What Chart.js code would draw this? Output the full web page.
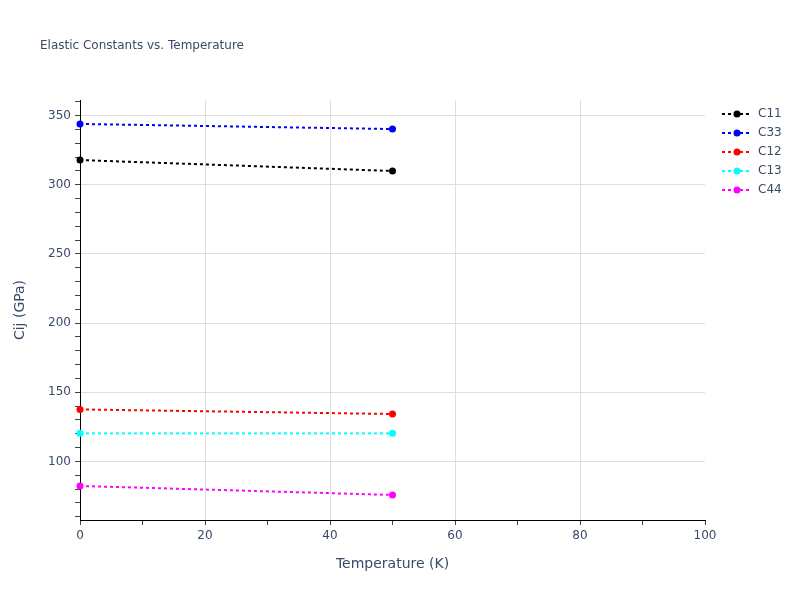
<!DOCTYPE html>
<html>
<head>
<meta charset="utf-8">
<script src="https://cdn.jsdelivr.net/npm/chart.js@4.4.1/dist/chart.umd.min.js"></script>
<style>
html,body{margin:0;padding:0;background:#fff;}
canvas{display:block;}
</style>
</head>
<body>
<canvas id="c" width="800" height="600"></canvas>
<script>
const temperatures = [0, 50];
const seriesNames = ["C11", "C33", "C12", "C13", "C44"];
const seriesColors = ["#000000", "#0000ff", "#ff0000", "#00ffff", "#ff00ff"];
const C11 = [317.8, 309.9];
const C33 = [343.9, 340.2];
const C12 = [137.6, 134.3];
const C13 = [120.3, 120.3];
const C44 = [82.3, 75.8];
const xTickValues = [0,10,20,30,40,50,60,70,80,90,100];
const xLabelValues = [0,20,40,60,80,100];
const yTickValues = [60,70,80,90,100,110,120,130,140,150,160,170,180,190,200,210,220,230,240,250,260,270,280,290,300,310,320,330,340,350,360];
const yLabelValues = [100,150,200,250,300,350];
const titleText = "Elastic Constants vs. Temperature";
const xTitle = "Temperature (K)";
const yTitle = "Cij (GPa)";

const seriesValues = [C11, C33, C12, C13, C44];
const FONT = '"DejaVu Sans", Verdana, sans-serif';
const TEXT = '#3a4a68';

const datasets = seriesNames.map((name, i) => ({
  label: name,
  data: temperatures.map((t, j) => ({x: t, y: seriesValues[i][j]})),
  borderColor: seriesColors[i],
  backgroundColor: seriesColors[i],
  borderWidth: 2,
  borderDash: [3, 3],
  pointRadius: 3.5,
  pointHoverRadius: 3.5,
  pointBorderWidth: 0,
  tension: 0,
  clip: false
}));

const overlay = {
  id: 'overlay',
  afterDraw(chart) {
    const ctx = chart.ctx;
    ctx.save();
    ctx.fillStyle = TEXT;
    ctx.font = '12px ' + FONT;
    ctx.textAlign = 'left';
    ctx.textBaseline = 'middle';
    ctx.fillText(titleText, 40, 46);
    seriesNames.forEach((name, i) => {
      const y = 114 + i * 19;
      ctx.strokeStyle = seriesColors[i];
      ctx.lineWidth = 2;
      ctx.setLineDash([3, 3]);
      ctx.beginPath();
      ctx.moveTo(722, y);
      ctx.lineTo(752, y);
      ctx.stroke();
      ctx.setLineDash([]);
      ctx.fillStyle = seriesColors[i];
      ctx.beginPath();
      ctx.arc(737, y, 3.5, 0, Math.PI * 2);
      ctx.fill();
      ctx.fillStyle = TEXT;
      ctx.font = '12px ' + FONT;
      ctx.fillText(name, 758, y);
    });
    ctx.restore();
  }
};

new Chart(document.getElementById('c'), {
  type: 'line',
  data: { datasets },
  options: {
    responsive: false,
    animation: false,
    devicePixelRatio: 1,
    layout: { padding: { top: 100, right: 95, left: 0, bottom: 0 } },
    plugins: { legend: { display: false }, tooltip: { enabled: false }, title: { display: false } },
    scales: {
      x: {
        type: 'linear',
        min: 0, max: 100,
        afterBuildTicks: s => { s.ticks = xTickValues.map(v => ({value: v})); },
        afterFit: s => { s.height = 80; },
        ticks: {
          autoSkip: false, maxRotation: 0,
          color: TEXT, font: { size: 12, family: FONT }, padding: 4,
          callback: v => xLabelValues.includes(v) ? String(v) : ''
        },
        grid: {
          color: c => (c.tick && xLabelValues.includes(c.tick.value) && c.tick.value !== 0 && c.tick.value !== 100) ? '#dedede' : 'rgba(0,0,0,0)',
          tickColor: '#444',
          tickLength: 5,
          lineWidth: 1
        },
        border: { display: true, color: '#000', width: 1 },
        title: { display: true, text: xTitle, color: TEXT, font: { size: 14, family: FONT }, padding: { top: 0, bottom: 27 } }
      },
      y: {
        type: 'linear',
        min: 57.7, max: 361.2,
        afterBuildTicks: s => { s.ticks = yTickValues.map(v => ({value: v})); },
        afterFit: s => { s.width = 80; },
        ticks: {
          autoSkip: false,
          color: TEXT, font: { size: 12, family: FONT }, padding: 4,
          callback: v => yLabelValues.includes(v) ? String(v) : ''
        },
        grid: {
          color: c => (c.tick && yLabelValues.includes(c.tick.value)) ? '#dedede' : 'rgba(0,0,0,0)',
          tickColor: '#444',
          tickLength: 5,
          lineWidth: 1
        },
        border: { display: true, color: '#000', width: 1 },
        title: { display: true, text: yTitle, color: TEXT, font: { size: 14, family: FONT }, padding: { top: 12, bottom: 0 } }
      }
    }
  },
  plugins: [overlay]
});
</script>
</body>
</html>
